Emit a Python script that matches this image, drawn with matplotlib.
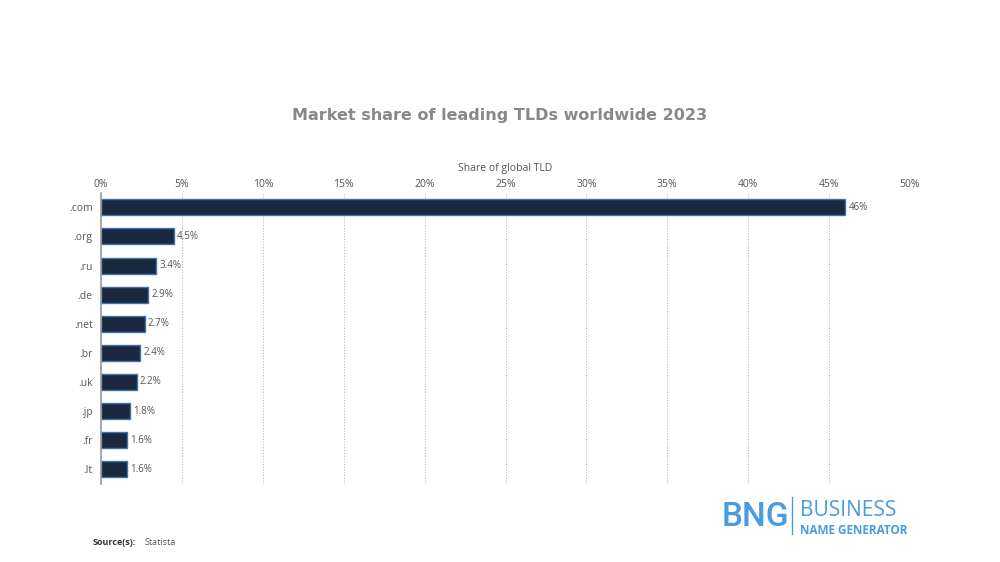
import matplotlib.pyplot as plt
import numpy as np

tlds = ['.com', '.org', '.ru', '.de', '.net', '.br', '.uk', '.jp', '.fr', '.lt']
share = [46, 4.5, 3.4, 2.9, 2.7, 2.4, 2.2, 1.8, 1.6, 1.6]
labels = ['46%', '4.5%', '3.4%', '2.9%', '2.7%', '2.4%', '2.2%', '1.8%', '1.6%', '1.6%']
ticks = [0, 5, 10, 15, 20, 25, 30, 35, 40, 45, 50]

plt.rcParams['font.family'] = ['Open Sans', 'DejaVu Sans']

fig = plt.figure(figsize=(10, 5.62), dpi=100)
ax = fig.add_axes([0.101, 0.139, 0.809, 0.518])

y = np.arange(len(tlds))
ax.barh(y, share, height=0.55, color='#1a2940', edgecolor='#3f74a8', linewidth=1)
for yi, v, lab in zip(y, share, labels):
    ax.text(v + 0.2, yi, lab, va='center', ha='left', fontsize=7, color='#555555')

ax.set_xlim(0, 50)
ax.set_ylim(len(tlds) - 0.5, -0.5)
ax.set_yticks(y)
ax.set_yticklabels(tlds, fontsize=7.5, color='#555555')
ax.set_xticks(ticks)
ax.set_xticklabels([f'{t}%' for t in ticks], fontsize=7.5, color='#555555')
ax.xaxis.tick_top()
ax.xaxis.set_label_position('top')
ax.set_xlabel('Share of global TLD', fontsize=7.5, color='#555555', labelpad=6)
ax.tick_params(axis='x', length=0, pad=2)
ax.tick_params(axis='y', length=0, pad=6)
for t in ticks[1:]:
    ax.axvline(t, color='#bbbbbb', linestyle=(0, (1, 1.5)), linewidth=0.8, zorder=0)
for s in ['top', 'right', 'bottom']:
    ax.spines[s].set_visible(False)
ax.spines['left'].set_color('#999999')
ax.spines['left'].set_linewidth(1.2)

fig.text(0.5, 0.795, 'Market share of leading TLDs worldwide 2023', ha='center', va='center',
         fontsize=11.5, fontweight='bold', color='#888888', family='DejaVu Sans')

fig.text(0.093, 0.035, 'Source(s):', fontsize=6.5, fontweight='bold', color='#333333', va='center')
fig.text(0.145, 0.035, 'Statista', fontsize=6.5, color='#555555', va='center')

# logo
fig.text(0.722, 0.08, 'BNG', fontsize=24, color='#4a9be0', va='center', ha='left',
         family='Roboto', fontweight='medium')
fig.lines.append(plt.Line2D([0.792, 0.792], [0.05, 0.115], transform=fig.transFigure,
                            color='#4a9be0', linewidth=1))
fig.text(0.8, 0.092, 'BUSINESS', fontsize=15, color='#4a9be0', va='center', ha='left',
         family='Open Sans')
fig.text(0.8, 0.056, 'NAME GENERATOR', fontsize=8.5, color='#4a9be0', va='center', ha='left',
         family='Open Sans', fontweight='bold')

fig.savefig('out.png', dpi=100, facecolor='white')
